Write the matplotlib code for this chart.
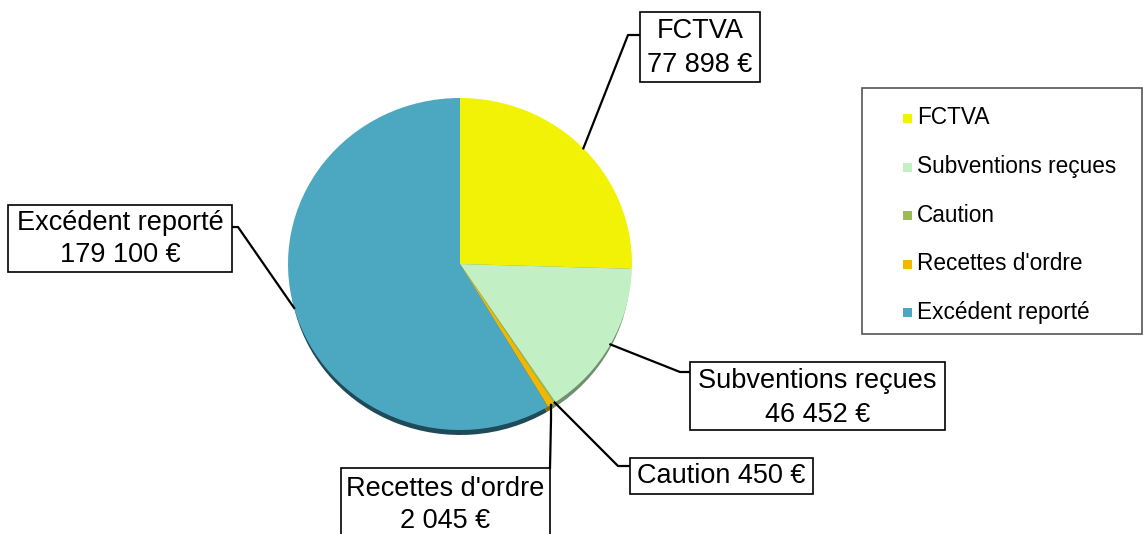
import matplotlib
matplotlib.use('Agg')
import matplotlib.pyplot as plt
from matplotlib.patches import Rectangle
import numpy as np

plt.rcParams['font.family'] = ['Liberation Sans', 'DejaVu Sans']

# data
categories = ['FCTVA', 'Subventions reçues', 'Caution', "Recettes d'ordre", 'Excédent reporté']
values = [77898, 46452, 450, 2045, 179100]
value_labels = ['77 898 €', '46 452 €', '450 €', '2 045 €', '179 100 €']
colors = ['#F2F207', '#C2F0C4', '#9BBB59', '#F0B800', '#4CA7C0']
shadow_colors = ['#8A8A10', '#6F8F70', '#5A6E35', '#8A6A00', '#1F4B58']

W, H = 1143, 534
fig = plt.figure(figsize=(W / 100, H / 100), dpi=100)

# pie geometry in pixels
cx, cy, rx, ry = 460, 264, 172, 166

pax = fig.add_axes([(cx - rx) / W, 1 - (cy + ry) / H, 2 * rx / W, 2 * ry / H])
# shadow underneath
pax.pie(values, colors=shadow_colors, startangle=90, counterclock=False,
        radius=0.99, center=(0, -0.04), wedgeprops=dict(linewidth=0))
pax.pie(values, colors=colors, startangle=90, counterclock=False,
        radius=1, wedgeprops=dict(linewidth=0))
pax.set_aspect('auto')
pax.set_xlim(-1, 1)
pax.set_ylim(-1, 1)
pax.axis('off')

# overlay in pixel coordinates
ax = fig.add_axes([0, 0, 1, 1], zorder=5)
ax.set_xlim(0, W)
ax.set_ylim(H, 0)
ax.axis('off')
ax.patch.set_alpha(0)

# label layout: box (x0, y0, x1, y1), elbow point, box attach point, text centre y
boxes = [
    (640, 12, 760, 82),
    (690, 362, 945, 430),
    (630, 458, 813, 494),
    (341, 468, 550, 545),
    (8, 205, 232, 272),
]
elbows = [(628, 35), (680, 372), (618, 466), (551, 420), (238, 227)]
attach = [(640, 35), (690, 372), (630, 466), (550, 468), (232, 227)]
text_y = [48, 398, 476, 505, 239]
texts = [f'{categories[0]}\n{value_labels[0]}',
         f'{categories[1]}\n{value_labels[1]}',
         f'{categories[2]} {value_labels[2]}',
         f'{categories[3]}\n{value_labels[3]}',
         f'{categories[4]}\n{value_labels[4]}']

total = sum(values)
cum = np.cumsum([0] + values)
for i in range(len(values)):
    mid = (cum[i] + cum[i + 1]) / 2 / total * 2 * np.pi
    px = cx + rx * np.sin(mid)
    py = cy - ry * np.cos(mid)
    ex, ey = elbows[i]
    ax2, ay2 = attach[i]
    ax.plot([px, ex, ax2], [py, ey, ay2], color='black', lw=1.6, zorder=6)
    x0, y0, x1, y1 = boxes[i]
    ax.add_patch(Rectangle((x0, y0), x1 - x0, y1 - y0, facecolor='white',
                           edgecolor='black', lw=1.2, zorder=7))
    ax.text((x0 + x1) / 2, text_y[i], texts[i],
            ha='center', va='center', fontsize=19.5, linespacing=1.35, zorder=8)

# legend box
ax.add_patch(Rectangle((862, 88), 280, 246, facecolor='white',
                       edgecolor='#555555', lw=1.2, zorder=7))
for i, name in enumerate(categories):
    yy = 118 + i * 48.5
    ax.add_patch(Rectangle((903, yy - 4), 9, 9, facecolor=colors[i],
                           edgecolor='none', zorder=8))
    ax.text(917, yy, name, ha='left', va='center', fontsize=16.3, zorder=8)

fig.savefig('out.png', dpi=100)
